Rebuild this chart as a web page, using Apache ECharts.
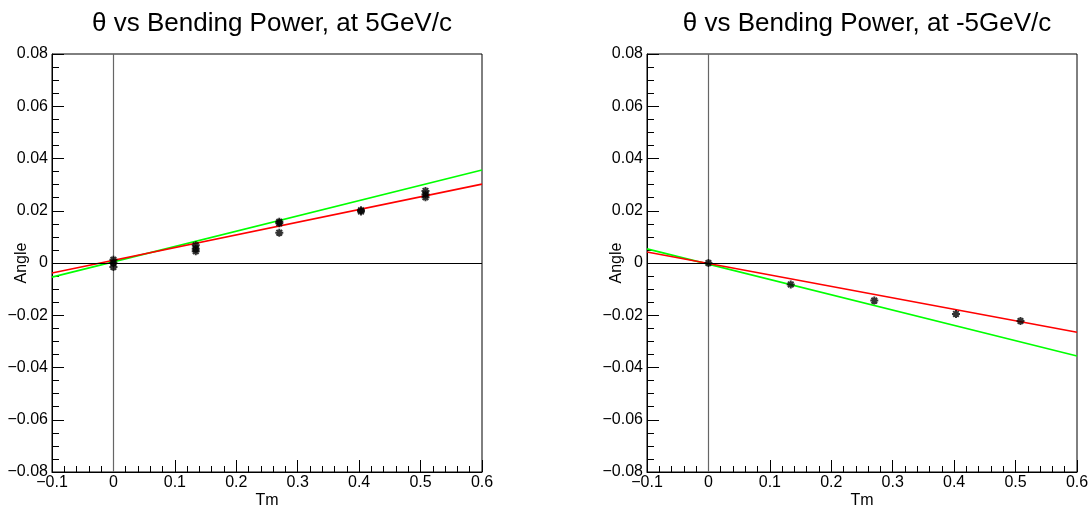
<!DOCTYPE html>
<html>
<head>
<meta charset="utf-8">
<script src="https://cdn.jsdelivr.net/npm/echarts@6/dist/echarts.min.js"></script>
<style>
html,body{margin:0;padding:0;background:#fff;}
#c{width:1089px;height:510px;}
</style>
</head>
<body>
<div id="c"></div>
<script>
// ---- data ----
const titles = ['\u03B8 vs Bending Power, at 5GeV/c', '\u03B8 vs Bending Power, at -5GeV/c'];
const xName = 'Tm';
const yName = 'Angle';

// left panel (+5 GeV/c) measured points
const leftX = [0, 0, 0, 0.134, 0.134, 0.134, 0.27, 0.27, 0.27, 0.403, 0.403, 0.508, 0.508, 0.508];
const leftY = [0.0012, 0.0, -0.0015, 0.0068, 0.0055, 0.0045, 0.0158, 0.0152, 0.0116, 0.0202, 0.0197, 0.0276, 0.0262, 0.0252];
// right panel (-5 GeV/c) measured points
const rightX = [0, 0.134, 0.27, 0.403, 0.508];
const rightY = [0.0, -0.0082, -0.0144, -0.0195, -0.0222];

// fit (red) and expected (green) line endpoints, read at x = -0.1 and x = 0.6
const lineX = [-0.1, 0.6];
const leftRed = [-0.0038, 0.0302];
const leftGreen = [-0.0054, 0.0356];
const rightRed = [0.0042, -0.0265];
const rightGreen = [0.0054, -0.0356];

// ---- chart ----
const FONT = '"Liberation Sans", Arial, Helvetica, sans-serif';
const grids = [
  {left: 52, top: 54, width: 430, height: 418},
  {left: 647, top: 54, width: 430, height: 418}
];
function fmt(v, d) {
  if (Math.abs(v) < 1e-9) return '0';
  const s = Math.abs(v).toFixed(d);
  return (v < 0 ? '\u2212' : '') + s;
}
function pairs(xs, ys) { return xs.map((x, i) => [x, ys[i]]); }

const star = 'path://M5,0 L5,10 M0,5 L10,5 M1.5,1.5 L8.5,8.5 M8.5,1.5 L1.5,8.5';

const xAxes = [0, 1].map(i => ({
  gridIndex: i, type: 'value', min: -0.1, max: 0.6, interval: 0.1,
  name: xName, nameLocation: 'middle', nameGap: 21, nameMoveOverlap: false,
  nameTextStyle: {color: '#000', fontSize: 16, fontFamily: FONT},
  axisLine: {show: true, onZero: false, lineStyle: {color: '#000', width: 1}},
  axisTick: {show: true, inside: true, length: 12, lineStyle: {color: '#000'}},
  minorTick: {show: true, inside: true, splitNumber: 5, length: 6, lineStyle: {color: '#000'}},
  axisLabel: {color: '#000', fontSize: 16, fontFamily: FONT, margin: 3, formatter: v => fmt(v, 1)},
  splitLine: {show: false}
}));

const yAxes = [0, 1].map(i => ({
  gridIndex: i, type: 'value', min: -0.08, max: 0.08, interval: 0.02,
  name: yName, nameLocation: 'middle', nameGap: 22, nameRotate: 90, nameMoveOverlap: false,
  nameTextStyle: {color: '#000', fontSize: 16, fontFamily: FONT},
  axisLine: {show: true, onZero: false, lineStyle: {color: '#000', width: 1}},
  axisTick: {show: true, inside: true, length: 12, lineStyle: {color: '#000'}},
  minorTick: {show: true, splitNumber: 4, length: 7, lineStyle: {color: '#000'}},
  axisLabel: {color: '#000', fontSize: 16, fontFamily: FONT, margin: 4, formatter: v => fmt(v, 2)},
  splitLine: {show: false}
}));

const series = [];
const pts = [pairs(leftX, leftY), pairs(rightX, rightY)];
const reds = [pairs(lineX, leftRed), pairs(lineX, rightRed)];
const greens = [pairs(lineX, leftGreen), pairs(lineX, rightGreen)];
for (let i = 0; i < 2; i++) {
  series.push({
    type: 'line', xAxisIndex: i, yAxisIndex: i, data: [], silent: true,
    markLine: {
      symbol: 'none', silent: true, label: {show: false}, animation: false,
      data: [
        {xAxis: 0, lineStyle: {color: '#666', width: 1.2, type: 'solid'}},
        {yAxis: 0, lineStyle: {color: '#000', width: 1, type: 'solid'}}
      ]
    }
  });
  series.push({
    type: 'line', xAxisIndex: i, yAxisIndex: i, data: greens[i], showSymbol: false,
    lineStyle: {color: '#00ff00', width: 1.6}, z: 3, animation: false
  });
  series.push({
    type: 'line', xAxisIndex: i, yAxisIndex: i, data: reds[i], showSymbol: false,
    lineStyle: {color: '#ff0000', width: 1.6}, z: 4, animation: false
  });
  series.push({
    type: 'scatter', xAxisIndex: i, yAxisIndex: i, data: pts[i],
    symbol: star, symbolSize: 8, z: 5, animation: false,
    itemStyle: {color: 'transparent', borderColor: '#000', borderWidth: 2}
  });
}

const chart = echarts.init(document.getElementById('c'), null, {renderer: 'canvas'});
chart.setOption({
  backgroundColor: '#fff',
  animation: false,
  title: [0, 1].map(i => ({
    text: titles[i],
    left: grids[i].left + grids[i].width / 2,
    top: 6,
    textAlign: 'center',
    textStyle: {color: '#000', fontSize: 26, fontWeight: 'normal', fontFamily: FONT}
  })),
  grid: grids.map(g => Object.assign({show: true, borderColor: '#000', borderWidth: 1, backgroundColor: '#fff', containLabel: false, outerBoundsMode: 'none'}, g)),
  xAxis: xAxes,
  yAxis: yAxes,
  series: series
});
</script>
</body>
</html>
